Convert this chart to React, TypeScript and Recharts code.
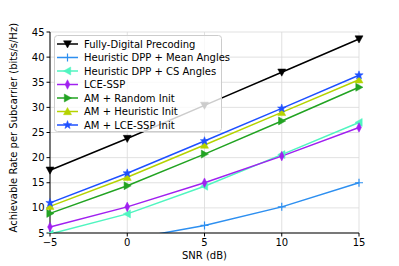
import { LineChart, Line, XAxis, YAxis, CartesianGrid } from "recharts";

const snr = [-5, 0, 5, 10, 15];
const fullyDigital = [17.5, 23.8, 30.4, 37.0, 43.6];
const dppMean = [2.0, 3.7, 6.5, 10.2, 15.0];
const dppCs = [4.8, 8.8, 14.3, 20.6, 27.0];
const lceSsp = [6.2, 10.2, 15.0, 20.3, 26.0];
const amRandom = [8.9, 14.4, 20.7, 27.3, 34.0];
const amHeuristic = [10.3, 16.1, 22.5, 29.0, 35.5];
const amLce = [11.0, 16.9, 23.3, 29.8, 36.4];

const xTicks = [-5, 0, 5, 10, 15];
const yTicks = [5, 10, 15, 20, 25, 30, 35, 40, 45];

const series = [
  { key: "fd", name: "Fully-Digital Precoding", values: fullyDigital, color: "#000000", marker: "tdown" },
  { key: "mean", name: "Heuristic DPP + Mean Angles", values: dppMean, color: "#2d8ff0", marker: "plus" },
  { key: "cs", name: "Heuristic DPP + CS Angles", values: dppCs, color: "#50f5c0", marker: "tleft" },
  { key: "lce", name: "LCE-SSP", values: lceSsp, color: "#a020f0", marker: "diamond" },
  { key: "amr", name: "AM + Random Init", values: amRandom, color: "#22a322", marker: "tright" },
  { key: "amh", name: "AM + Heuristic Init", values: amHeuristic, color: "#b5d300", marker: "tup" },
  { key: "aml", name: "AM + LCE-SSP Init", values: amLce, color: "#1e50ff", marker: "star" },
];

const data = snr.map((x, i) => {
  const row: Record<string, number> = { snr: x };
  series.forEach((s) => (row[s.key] = s.values[i]));
  return row;
});

const font = "DejaVu Sans, sans-serif";

function Marker({ cx, cy, shape, color }: { cx: number; cy: number; shape: string; color: string }) {
  const r = 4;
  let pts = "";
  if (shape === "plus") {
    return (
      <path
        d={`M${cx - r},${cy}H${cx + r}M${cx},${cy - r}V${cy + r}`}
        stroke={color}
        strokeWidth={1.2}
        fill="none"
      />
    );
  }
  if (shape === "tdown") pts = `${cx - r},${cy - r * 0.8} ${cx + r},${cy - r * 0.8} ${cx},${cy + r}`;
  if (shape === "tup") pts = `${cx - r},${cy + r * 0.8} ${cx + r},${cy + r * 0.8} ${cx},${cy - r}`;
  if (shape === "tleft") pts = `${cx - r},${cy} ${cx + r * 0.8},${cy - r} ${cx + r * 0.8},${cy + r}`;
  if (shape === "tright") pts = `${cx + r},${cy} ${cx - r * 0.8},${cy - r} ${cx - r * 0.8},${cy + r}`;
  if (shape === "diamond")
    pts = `${cx},${cy - r * 1.2} ${cx + r * 0.6},${cy} ${cx},${cy + r * 1.2} ${cx - r * 0.6},${cy}`;
  if (shape === "star") {
    const p: string[] = [];
    for (let k = 0; k < 10; k++) {
      const rr = k % 2 === 0 ? r * 1.1 : r * 0.45;
      const a = -Math.PI / 2 + (k * Math.PI) / 5;
      p.push(`${cx + rr * Math.cos(a)},${cy + rr * Math.sin(a)}`);
    }
    pts = p.join(" ");
  }
  return <polygon points={pts} fill={color} stroke={color} strokeWidth={0.5} />;
}

const fmt = (v: number) => String(v).replace("-", "\u2212");

function LegendBox() {
  return (
    <svg
      width={168}
      height={97}
      style={{ position: "absolute", left: 54, top: 35, overflow: "visible" }}
    >
      <rect x={0.5} y={0.5} width={167} height={96} rx={3} fill="rgba(255,255,255,0.8)" stroke="#cccccc" />
      {series.map((s, i) => {
        const y = 9 + i * 13.5;
        return (
          <g key={s.key}>
            <line x1={3} x2={24} y1={y} y2={y} stroke={s.color} strokeWidth={1.5} />
            <Marker cx={13.5} cy={y} shape={s.marker} color={s.color} />
            <text x={30} y={y + 3.6} fontSize={10} fontFamily={font} fill="#000">
              {s.name}
            </text>
          </g>
        );
      })}
    </svg>
  );
}

export default function App() {
  return (
    <div style={{ position: "absolute", left: 0, top: 0, width: 399, height: 266, background: "#fff" }}>
      <LineChart width={399} height={266} data={data} margin={{ top: 32, right: 40, left: 0, bottom: 0 }}>
        <CartesianGrid stroke="#d9d9d9" strokeWidth={0.8} />
        <XAxis
          dataKey="snr"
          type="number"
          domain={[-5, 15]}
          ticks={xTicks}
          tickFormatter={fmt}
          height={33}
          stroke="#000"
          tickSize={3.5}
          tick={{ fill: "#000", fontSize: 10, fontFamily: font }}
          label={{ value: "SNR (dB)", position: "insideBottom", offset: 7, fill: "#000", fontSize: 10, fontFamily: font }}
        />
        <XAxis xAxisId="top" orientation="top" dataKey="snr" type="number" domain={[-5, 15]} tick={false} tickLine={false} height={0} stroke="#000" />
        <YAxis
          type="number"
          domain={[5, 45]}
          ticks={yTicks}
          allowDataOverflow
          width={50}
          stroke="#000"
          tickSize={3.5}
          tick={{ fill: "#000", fontSize: 10, fontFamily: font }}
          label={{
            value: "Achievable Rate per Subcarrier (bits/s/Hz)",
            angle: -90,
            position: "insideLeft",
            dx: 8,
            dy: 100,
            fill: "#000",
            fontSize: 10,
            fontFamily: font,
          }}
        />
        <YAxis yAxisId="right" orientation="right" domain={[5, 45]} tick={false} tickLine={false} width={0} stroke="#000" />
        {series.map((s) => (
          <Line
            key={s.key}
            dataKey={s.key}
            stroke={s.color}
            strokeWidth={1.5}
            isAnimationActive={false}
            dot={(p: any) => (
              <Marker key={`${s.key}-${p.index}`} cx={p.cx} cy={p.cy} shape={s.marker} color={s.color} />
            )}
          />
        ))}
      </LineChart>
      <LegendBox />
    </div>
  );
}
